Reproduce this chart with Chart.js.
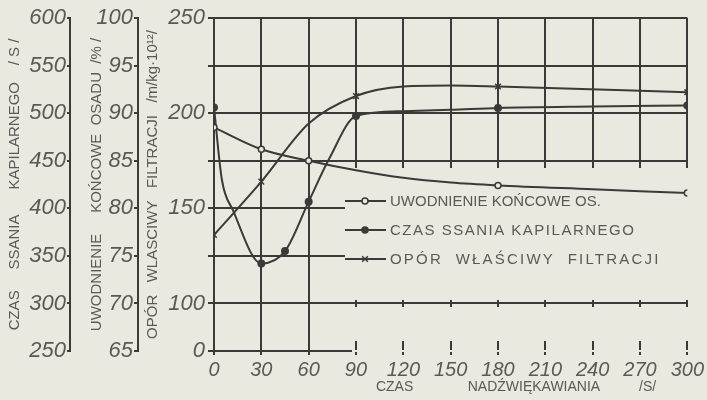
<!DOCTYPE html>
<html>
<head>
<meta charset="utf-8">
<script src="https://cdn.jsdelivr.net/npm/chart.js@4.4.0/dist/chart.umd.min.js"></script>
<style>
  html, body { margin: 0; padding: 0; background: #eae9df; }
  #wrap { width: 707px; height: 400px; position: relative; }
</style>
</head>
<body>
<div id="wrap"><canvas id="chart" width="707" height="400"></canvas></div>
<script>
// czas nadzwiekawiania [s]
const timeTicks = [0, 30, 60, 90, 120, 150, 180, 210, 240, 270, 300];

// uwodnienie koncowe osadu [%]
const moistTime = [0, 30, 60, 90, 120, 150, 180, 240, 300];
const moistValues = [88.5, 86.2, 85.0, 84.0, 83.2, 82.7, 82.4, 82.0, 81.6];
const moistMarked = [0, 30, 60, 180, 300];

// czas ssania kapilarnego [s]
const cstTime = [0, 5, 12, 30, 45, 60, 73, 90, 120, 150, 180, 240, 300];
const cstValues = [506, 430, 398, 342, 355, 407, 452, 497, 502, 503.5, 505.5, 507, 508];
const cstMarked = [0, 30, 45, 60, 90, 180, 300];

// opor wlasciwy filtracji [m/kg 10^12]
const resTime = [0, 30, 60, 90, 120, 150, 180, 300];
const resValues = [136, 164, 194.5, 209, 214, 214.5, 214, 211];
const resMarked = [0, 30, 90, 180, 300];

// tick labels of the three left axes
const cstTicks = [250, 300, 350, 400, 450, 500, 550, 600];
const moistTicks = [65, 70, 75, 80, 85, 90, 95, 100];
const resTicks = [75, 100, 125, 150, 175, 200, 225, 250];
const resLabels = ['0', '100', '', '150', '', '200', '', '250'];

const bg = '#eae9df';
const ink = '#3a3a38';
const txt = '#595955';

function toPoints(xs, ys) {
  return xs.map((x, i) => ({ x: x, y: ys[i] }));
}

function markRadius(marked, r) {
  return ctx => (marked.includes(ctx.raw.x) ? r : 0);
}

const labelFont = { family: 'Liberation Sans', size: 22, style: 'italic' };
const titleFont = { family: 'Liberation Sans', size: 15 };

// legend box sitting inside the plot, over a cleared part of the grid
const legendRows = [201, 230, 259];
const legendSpacing = ['0px', '1.5px', '2.2px'];

const boxLegend = {
  id: 'boxLegend',
  beforeDatasetsDraw(chart) {
    const ctx = chart.ctx;
    ctx.save();
    ctx.fillStyle = bg;
    ctx.fillRect(345, 168, 345, 132);
    ctx.fillRect(345, 307, 345, 34);
    ctx.fillRect(352, 350, 338, 2);
    ctx.restore();
  },
  afterDatasetsDraw(chart) {
    const ctx = chart.ctx;
    ctx.save();
    ctx.font = '15px "Liberation Sans"';
    ctx.textBaseline = 'middle';
    chart.data.datasets.forEach((ds, i) => {
      const y = legendRows[i];
      ctx.strokeStyle = ink;
      ctx.lineWidth = 2;
      ctx.beginPath();
      ctx.moveTo(345, y);
      ctx.lineTo(386, y);
      ctx.stroke();
      ctx.fillStyle = ds.pointBackgroundColor;
      ctx.lineWidth = 1.5;
      Chart.helpers.drawPoint(ctx, {
        pointStyle: ds.pointStyle,
        radius: ds.legendRadius,
        borderWidth: 1.5
      }, 365, y);
      ctx.fillStyle = txt;
      ctx.letterSpacing = legendSpacing[i];
      ctx.fillText(ds.label, 390, y + 1);
    });
    ctx.restore();
  }
};

new Chart(document.getElementById('chart'), {
  type: 'line',
  data: {
    datasets: [
      {
        label: 'UWODNIENIE KOŃCOWE OS.',
        data: toPoints(moistTime, moistValues),
        yAxisID: 'yMoist',
        borderColor: ink,
        borderWidth: 2,
        pointStyle: 'circle',
        pointRadius: markRadius(moistMarked, 3),
        pointBackgroundColor: bg,
        pointBorderColor: ink,
        pointBorderWidth: 1.5,
        legendRadius: 3,
        cubicInterpolationMode: 'monotone'
      },
      {
        label: 'CZAS SSANIA KAPILARNEGO',
        data: toPoints(cstTime, cstValues),
        yAxisID: 'yCst',
        borderColor: ink,
        borderWidth: 2,
        pointStyle: 'circle',
        pointRadius: markRadius(cstMarked, 3),
        pointBackgroundColor: ink,
        pointBorderColor: ink,
        legendRadius: 3,
        cubicInterpolationMode: 'monotone'
      },
      {
        label: 'OPÓR  WŁAŚCIWY  FILTRACJI',
        data: toPoints(resTime, resValues),
        yAxisID: 'yRes',
        borderColor: ink,
        borderWidth: 2,
        pointStyle: 'crossRot',
        pointRadius: markRadius(resMarked, 4),
        pointBackgroundColor: ink,
        pointBorderColor: ink,
        pointBorderWidth: 1.5,
        legendRadius: 4,
        cubicInterpolationMode: 'monotone'
      }
    ]
  },
  options: {
    responsive: false,
    animation: false,
    layout: { autoPadding: false, padding: { top: 18, right: 15, left: 0, bottom: 0 } },
    plugins: {
      legend: { display: false },
      tooltip: { enabled: false }
    },
    scales: {
      x: {
        type: 'linear',
        min: 0,
        max: 300,
        afterBuildTicks: s => { s.ticks = timeTicks.map(v => ({ value: v })); },
        ticks: { color: txt, font: { family: 'Liberation Sans', size: 20, style: 'italic' }, padding: 3, maxRotation: 0, autoSkip: false },
        grid: { color: ink, lineWidth: 2, tickLength: 4 },
        border: { display: false },
        title: {
          display: true,
          text: 'CZAS              NADŹWIĘKAWIANIA          /S/        ',
          align: 'end',
          color: txt,
          font: { family: 'Liberation Sans', size: 14 },
          padding: { top: 0, bottom: 4 }
        },
        afterFit: s => { s.height = 49; }
      },
      yRes: {
        position: 'left',
        weight: 1,
        min: 75,
        max: 250,
        afterBuildTicks: s => { s.ticks = resTicks.map(v => ({ value: v })); },
        ticks: { color: txt, font: labelFont, padding: 3, callback: v => resLabels[resTicks.indexOf(v)] },
        grid: { color: ink, lineWidth: 2, tickLength: 6 },
        border: { color: ink, width: 2 },
        title: {
          display: true,
          text: 'OPÓR   WLASCIWY   FILTRACJI   /m/kg·10¹²/',
          color: txt,
          font: titleFont,
          padding: { top: 6, bottom: 0 }
        },
        afterFit: s => { s.width = 76; }
      },
      yMoist: {
        position: 'left',
        weight: 2,
        min: 65,
        max: 100,
        afterBuildTicks: s => { s.ticks = moistTicks.map(v => ({ value: v })); },
        ticks: { color: txt, font: labelFont, padding: 1 },
        grid: { drawOnChartArea: false, color: ink, lineWidth: 2, tickLength: 4 },
        border: { color: ink, width: 2 },
        title: {
          display: true,
          text: 'UWODNIENIE     KOŃCOWE  OSADU  /% /',
          color: txt,
          font: titleFont,
          padding: { top: 18, bottom: 0 }
        },
        afterFit: s => { s.width = 68; }
      },
      yCst: {
        position: 'left',
        weight: 3,
        min: 250,
        max: 600,
        afterBuildTicks: s => { s.ticks = cstTicks.map(v => ({ value: v })); },
        ticks: { color: txt, font: labelFont, padding: 1 },
        grid: { drawOnChartArea: false, color: ink, lineWidth: 2, tickLength: 3 },
        border: { color: ink, width: 2 },
        title: {
          display: true,
          text: 'CZAS     SSANIA      KAPILARNEGO    / S /',
          color: txt,
          font: titleFont,
          padding: { top: 6, bottom: 0 }
        },
        afterFit: s => { s.width = 70; }
      }
    }
  },
  plugins: [boxLegend]
});
</script>
</body>
</html>
